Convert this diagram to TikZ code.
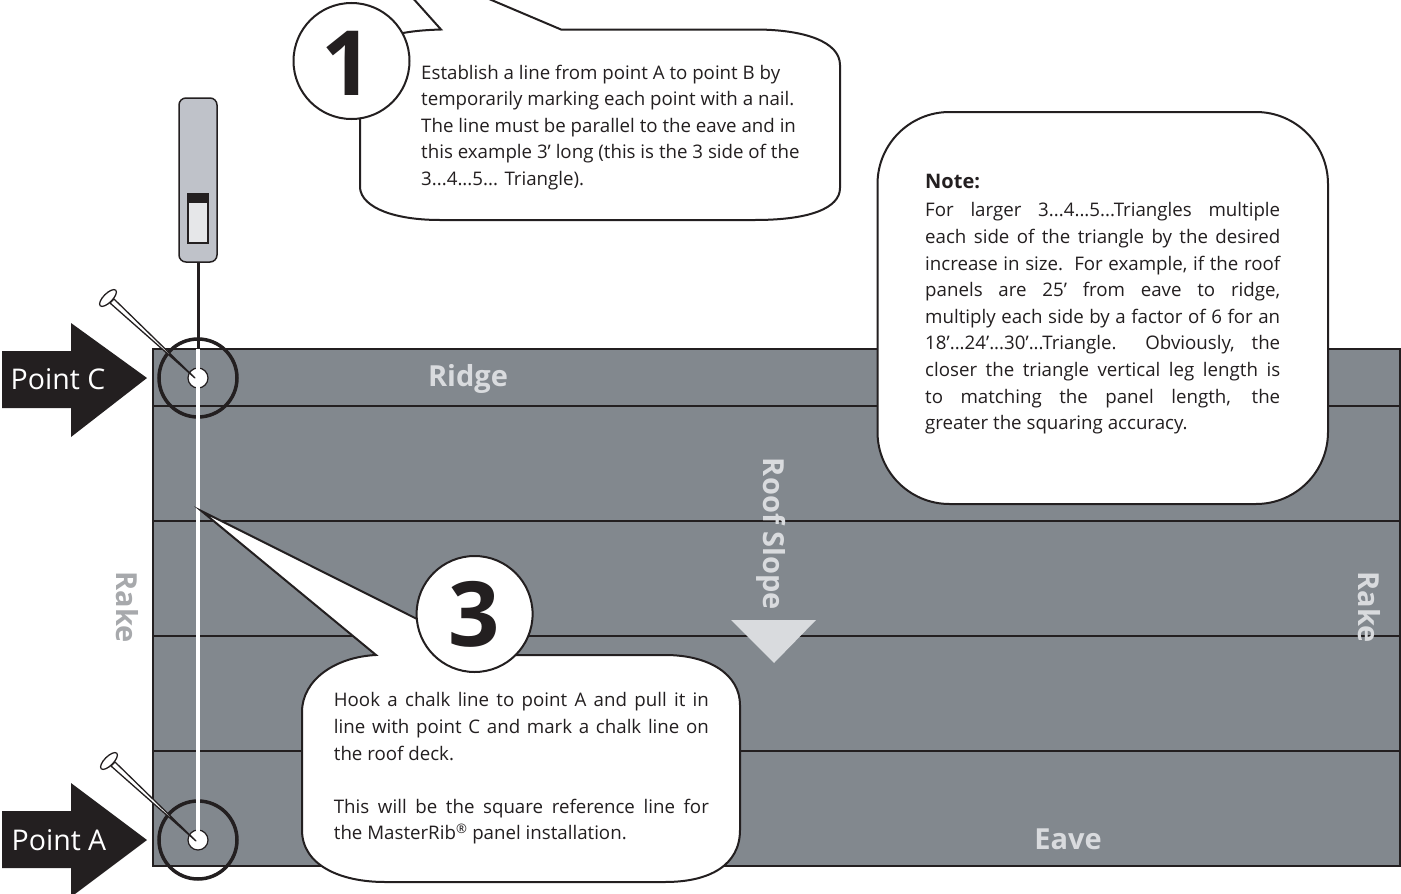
\documentclass[tikz,border=0pt]{standalone}
\usepackage{fontspec}
\setmainfont{Open Sans}
\definecolor{roof}{HTML}{82888E}
\definecolor{ink}{HTML}{231F20}
\definecolor{pale}{HTML}{D9DBDE}
\definecolor{rakegray}{HTML}{A7A9AC}
\definecolor{levelgray}{HTML}{BFC2C9}
\definecolor{glass}{HTML}{E6E7E9}
\newcommand{\fl}[1]{\leavevmode\hbox to 355pt{#1}}
\newcommand{\fm}[1]{\leavevmode\hbox to 375pt{#1}}
\tikzset{
  x=1pt,y=-1pt,
  balloon/.style={draw=ink,line width=2pt,fill=white,line join=miter},
  body/.style={font=\fontsize{18.7}{26.6}\selectfont,text=ink,inner sep=0pt,align=left,anchor=north west},
  bigdigit/.style={font=\fontsize{90}{90}\selectfont\bfseries,text=ink,inner sep=0pt},
  pale label/.style={font=\fontsize{29}{30}\selectfont\bfseries,text=pale,inner sep=0pt},
  rake label/.style={font=\fontsize{29}{30}\selectfont\bfseries,text=rakegray,inner sep=0pt,rotate=-90},
  point label/.style={font=\fontsize{28.5}{32}\selectfont,text=white,inner sep=0pt},
  course/.style={draw=ink,line width=1.5pt},
  ring/.style={draw=ink,line width=3.5pt},
  nail/.style={draw=ink,line width=1.3pt,fill=white,line join=round},
}
\newcommand{\drawnail}[2]{%
  \draw[nail] (#1+2,#2+5) -- (#1+6,#2+1) -- (#1+87,#2+80) -- cycle;
  \draw[nail,shift={(#1,#2)},rotate=45] (0,0) ellipse [x radius=11pt,y radius=4.5pt];
}
\begin{document}
\begin{tikzpicture}
\useasboundingbox (0,0) rectangle (1401,894);
\fill[white] (0,0) rectangle (1401,894);
% roof
\path[fill=roof,draw=ink,line width=1.5pt] (153,349) rectangle (1400,866);
\draw[course] (153,406) -- (1400,406);
\draw[course] (153,521) -- (1400,521);
\draw[course] (153,636) -- (1400,636);
\draw[course] (153,751) -- (1400,751);
% labels on roof
\node[pale label] (ridge) at (468,379) {Ridge};
\node[pale label] (eave) at (1068,839) {Eave};
\node[pale label,rotate=-90] (slope) at (771,534) {Roof Slope};
\node[rake label] (rakeL) at (127,607) {Rake};
\node[pale label,rotate=-90] (rakeR) at (1369,607) {Rake};
\fill[pale] (731,620) -- (816,620) -- (774,663) -- cycle;
% level and string
\coordinate (stringtop) at (198,262);
\coordinate (pC) at (198,378);
\coordinate (pA) at (198,840);
\draw[ink,line width=3pt] (stringtop) -- (198,350);
\draw[draw=ink,fill=levelgray,line width=1.5pt,rounded corners=7pt] (179,98) rectangle (217,262);
\draw[draw=ink,fill=glass,line width=1.5pt] (188,194) rectangle (208,243);
\fill[ink] (188,194) rectangle (208,203);
% rings
\draw[ring] (pC) circle [radius=39pt];
\draw[ring] (pA) circle [radius=39pt];
\draw[draw=ink,fill=white,line width=1.2pt] (pC) circle [radius=10pt];
\draw[draw=ink,fill=white,line width=1.2pt] (pA) circle [radius=10pt];
\draw[white,line width=4pt] (198,349) -- (pA);
% nails
\drawnail{108}{298}
\drawnail{109}{761}
% arrows
\fill[ink] (2,351) -- (71,351) -- (71,323) -- (147,378) -- (71,437) -- (71,408) -- (2,408) -- cycle;
\fill[ink] (2,811) -- (71,811) -- (71,783) -- (147,840) -- (71,897) -- (71,868) -- (2,868) -- cycle;
\node[point label] (labC) at (58,379) {Point C};
\node[point label] (labA) at (59,840) {Point A};
% balloon 1
\path[balloon] (411,-4) -- (441,29.5) .. controls (425,30) and (412,31) .. (398,34) -- (360,100)
  -- (360,188) .. controls (362,208) and (395,220) .. (440,220)
  -- (755,220) .. controls (810,220) and (840,208) .. (840,188)
  -- (840,65) .. controls (840,42) and (805,29.5) .. (755,29.5)
  -- (561,29.5) -- (482,-4);
\draw[draw=ink,line width=2pt,fill=white] (351.5,61) circle [radius=58pt];
\node[bigdigit] (n1) at (347,63) {1};
\node[body] (t1) at (421,64.5) {Establish a line from point A to point B by\\temporarily marking each point with a nail.\\The line must be parallel to the eave and in\\this example 3’ long (this is the 3 side of the\\3...4...5... Triangle).};
% note
\path[draw=ink,fill=white,line width=2pt,rounded corners=72pt] (877.5,112) rectangle (1328,504);
\node[body,font=\fontsize{20}{24}\selectfont\bfseries] (nt) at (925,174) {Note:};
\node[body] (t2) at (925,202.5) {\fl{For larger 3...4...5...Triangles multiple}\\\fl{each side of the triangle by the desired}\\\fl{increase in size.\ \ For example, if the roof}\\\fl{panels are 25’ from eave to ridge,}\\\fl{multiply each side by a factor of 6 for an}\\\fl{18’...24’...30’...Triangle.\ \ Obviously, the}\\\fl{closer the triangle vertical leg length is}\\\fl{to matching the panel length, the}\\greater the squaring accuracy.};
% balloon 3
\path[balloon] (201.5,511) -- (376,655) .. controls (335,657) and (302,680) .. (302,712)
  -- (302,830) .. controls (302,865) and (340,882) .. (385,882)
  -- (665,882) .. controls (710,882) and (740,865) .. (740,830)
  -- (740,705) .. controls (740,675) and (710,655) .. (665,655)
  -- (470,655) -- (417,619) -- cycle;
\draw[draw=ink,line width=2pt,fill=white] (474.6,614) circle [radius=58pt];
\node[bigdigit] (n3) at (474.6,614) {3};
\node[body] (t3) at (333.7,692.5) {\fm{Hook a chalk line to point A and pull it in}\\\fm{line with point C and mark a chalk line on}\\the roof deck.\\[26.6pt]\fm{This will be the square reference line for}\\the MasterRib\textsuperscript{®} panel installation.};
\end{tikzpicture}
\end{document}
